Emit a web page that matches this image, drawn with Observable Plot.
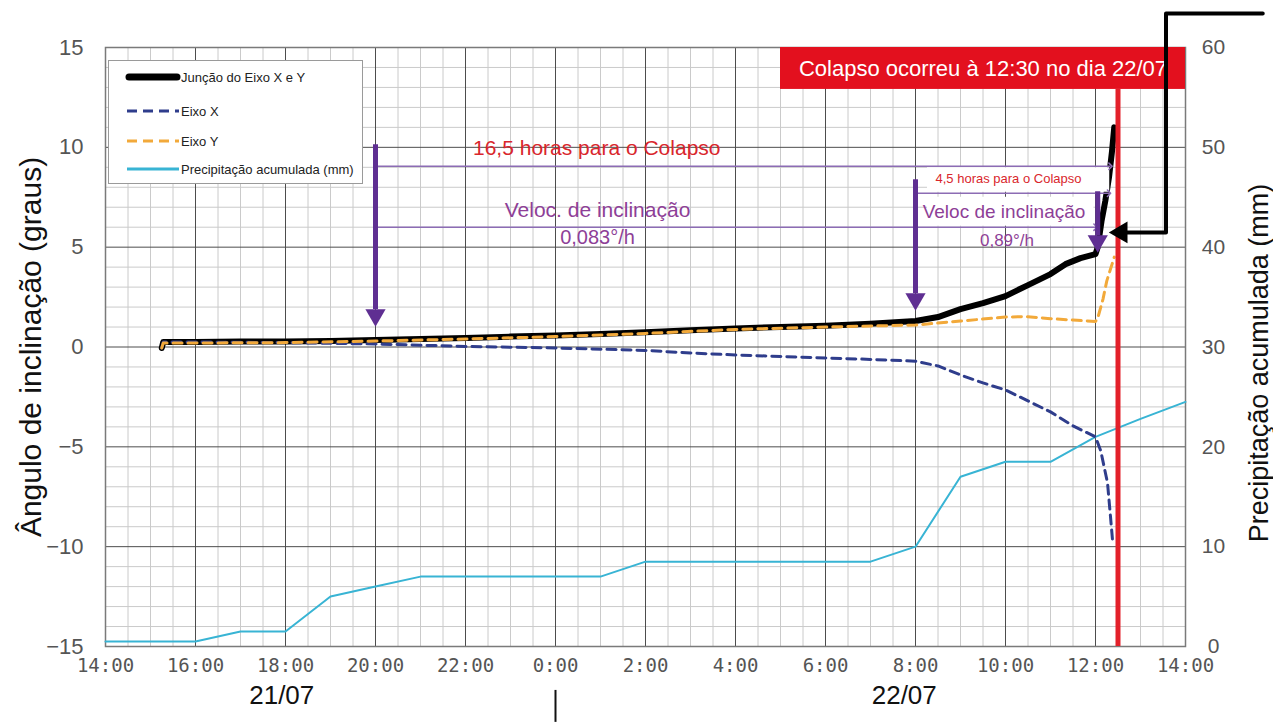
<!DOCTYPE html>
<html><head><meta charset="utf-8">
<script src="https://cdn.jsdelivr.net/npm/d3@7"></script>
<script src="https://cdn.jsdelivr.net/npm/@observablehq/plot@0.6"></script>
<style>
body{margin:0;background:#fff;}
#wrap{position:relative;width:1273px;height:725px;font-family:"Liberation Sans",Arial,sans-serif;}
#legend{position:absolute;left:108px;top:60px;width:255px;height:124px;background:#fff;border:1px solid #9a9a9a;box-sizing:border-box;}
#legend svg{position:absolute;left:0;top:0;}
</style></head><body><div id="wrap"></div>
<script>
// ---- data (time as "day HH:MM", angles in degrees, precipitation in mm) ----
const juncaoT = ["21 15:15","21 15:17","21 16:00","21 17:00","21 18:00","21 19:00","21 20:00","21 21:00","21 22:00","21 23:00","22 00:00","22 01:00","22 02:00","22 03:00","22 04:00","22 05:00","22 06:00","22 07:00","22 08:00","22 08:30","22 09:00","22 09:30","22 10:00","22 10:30","22 11:00","22 11:20","22 11:40","22 12:00","22 12:03","22 12:08","22 12:13","22 12:18","22 12:22","22 12:25"];
const juncaoV = [-0.05,0.25,0.25,0.27,0.28,0.3,0.35,0.4,0.45,0.52,0.58,0.65,0.74,0.84,0.93,1.0,1.07,1.17,1.3,1.5,1.9,2.2,2.55,3.1,3.65,4.15,4.45,4.65,5.0,6.3,7.3,8.5,9.8,11.0];

const eixoXT = ["21 15:15","21 15:17","21 16:00","21 18:00","21 20:00","21 22:00","22 00:00","22 02:00","22 03:00","22 04:00","22 06:00","22 07:00","22 08:00","22 08:30","22 09:00","22 09:30","22 10:00","22 10:30","22 11:00","22 11:30","22 12:00","22 12:07","22 12:16","22 12:20","22 12:23"];
const eixoXV = [-0.05,0.25,0.25,0.22,0.15,0.03,-0.05,-0.17,-0.3,-0.4,-0.55,-0.62,-0.71,-0.95,-1.4,-1.8,-2.15,-2.7,-3.25,-3.95,-4.5,-5.2,-6.8,-8.5,-9.8];

const eixoYT = ["21 15:15","21 15:17","21 16:00","21 18:00","21 20:00","21 22:00","22 00:00","22 02:00","22 04:00","22 06:00","22 08:00","22 09:00","22 10:00","22 10:30","22 11:00","22 11:30","22 12:00","22 12:03","22 12:10","22 12:15","22 12:25"];
const eixoYV = [-0.05,0.2,0.2,0.22,0.3,0.4,0.52,0.68,0.88,1.0,1.1,1.3,1.5,1.52,1.42,1.35,1.28,1.45,2.4,3.3,4.5];

const chuvaT = ["21 14:00","21 16:00","21 17:00","21 18:00","21 19:00","21 20:00","21 21:00","22 01:00","22 02:00","22 07:00","22 08:00","22 09:00","22 10:00","22 11:00","22 12:00","22 13:00","22 14:00"];
const chuvaMM = [0.5,0.5,1.5,1.5,5.0,6.0,7.0,7.0,8.5,8.5,10.0,17.0,18.5,18.5,21.0,22.8,24.5];

const xTicks = ["21 14:00","21 16:00","21 18:00","21 20:00","21 22:00","22 00:00","22 02:00","22 04:00","22 06:00","22 08:00","22 10:00","22 12:00","22 14:00"];
const leftTicks = [-15,-10,-5,0,5,10,15];
const rightTickLabels = [0,10,20,30,40,50,60];
const dayLabels = [{t:"21 17:55", label:"21/07"}, {t:"22 07:45", label:"22/07"}];

const seriesNames = ["Junção do Eixo X e Y","Eixo X","Eixo Y","Precipitação acumulada (mm)"];

// annotations
const colapsoT = "22 12:30";
const colapsoTexto = "Colapso ocorreu à 12:30 no dia 22/07";
const thickArrows = [{t:"21 20:00", from:10.15, to:1.35},{t:"22 08:00", from:8.4, to:2.15},{t:"22 12:03", from:7.8, to:5.05}];
const spans = [
  {t1:"21 20:00", t2:"22 12:20", y:9.05},
  {t1:"21 20:00", t2:"22 08:00", y:6.0},
  {t1:"22 08:00", t2:"22 12:18", y:7.7},
  {t1:"22 08:00", t2:"22 12:00", y:6.0}
];
const notes = [
  {t:"22 00:55", y:9.95, text:"16,5 horas para o Colapso", color:"#d9262c", size:21},
  {t:"22 00:56", y:6.85, text:"Veloc. de inclinação", color:"#8e3f97", size:21},
  {t:"22 00:56", y:5.5, text:"0,083°/h", color:"#8e3f97", size:20},
  {t:"22 10:04", y:8.42, text:"4,5 horas para o Colapso", color:"#d9262c", size:13},
  {t:"22 09:58", y:6.75, text:"Veloc de inclinação", color:"#8e3f97", size:19},
  {t:"22 10:02", y:5.35, text:"0,89°/h", color:"#8e3f97", size:17}
];
const noteBoxes = [{t1:"22 08:16", t2:"22 12:19", y1:7.75, y2:8.98},{t1:"22 08:16", t2:"22 11:58", y1:6.05, y2:7.5}];
const connector = [{t:"22 15:43", y:16.7},{t:"22 13:34", y:16.7},{t:"22 13:34", y:5.74},{t:"22 12:38", y:5.74}];
const connectorTip = {t:"22 12:37", y:5.74};
const bannerBox = {t1:"22 05:00", t2:"22 14:00", y1:12.9, y2:15};

// ---- helpers ----
const hrs = s => { const [d, hm] = s.split(" "); const [h, m] = hm.split(":").map(Number); return (d === "22" ? 24 : 0) + h + m / 60; };
const zip = (T, V) => T.map((t, i) => ({x: hrs(t), y: V[i]}));
const juncao = zip(juncaoT, juncaoV);
const eixoX = zip(eixoXT, eixoXV);
const eixoY = zip(eixoYT, eixoYV);
const chuva = zip(chuvaT, chuvaMM).map(d => ({x: d.x, y: d.y / 2 - 15}));

const xMajor = d3.range(16, 38, 2);
const xMinor = d3.range(14.5, 38, 0.5).filter(v => v % 2 !== 0);
const yMinor = d3.range(-14, 15, 1).filter(v => v % 5 !== 0);
const yMajor = [-10, -5, 0, 5, 10];
const purple = "#5f2f92";
const thin = "#8c6cb4";

const noteMarks = notes.map(n => Plot.text([n], {x: d => hrs(d.t), y: "y", text: "text", fill: n.color, fontSize: n.size}));

const chart = Plot.plot({
  width: 1273, height: 725,
  marginTop: 47, marginRight: 88, marginBottom: 79, marginLeft: 105,
  style: {fontFamily: "'Liberation Sans', Arial, sans-serif", background: "#fff"},
  x: {domain: [14, 38]},
  y: {domain: [-15, 15]},
  marks: [
    Plot.ruleX(xMinor, {stroke: "#cacaca", strokeWidth: 1}),
    Plot.ruleY(yMinor, {stroke: "#cacaca", strokeWidth: 1}),
    Plot.ruleX(xMajor, {stroke: "#4d4d4d", strokeWidth: 1}),
    Plot.ruleY(yMajor, {stroke: "#4d4d4d", strokeWidth: 1}),
    Plot.frame({stroke: "#7a7a7a", strokeWidth: 1.5}),
    Plot.axisX({ticks: xTicks.map(hrs), tickFormat: d => `${d % 24}:00`, tickSize: 0, tickPadding: 12, fontSize: 19, fontFamily: "'DejaVu Sans Mono', monospace", fill: "#555", label: null}),
    Plot.axisY({ticks: leftTicks, tickSize: 0, tickPadding: 22, fontSize: 22, fill: "#555", label: null}),
    Plot.axisY({anchor: "right", ticks: rightTickLabels.map(v => v / 2 - 15), tickFormat: d => String(Math.round((d + 15) * 2)), tickSize: 0, tickPadding: 28, textAnchor: "middle", fontSize: 21, fill: "#555", label: null}),
    Plot.text(["Ângulo de inclinação (graus)"], {frameAnchor: "left", dx: -74, rotate: -90, textAnchor: "middle", fontSize: 30, fill: "#111"}),
    Plot.text(["Precipitação acumulada (mm)"], {frameAnchor: "right", dx: 74, dy: 16, rotate: -90, textAnchor: "middle", fontSize: 27, fill: "#111"}),
    Plot.text(dayLabels, {x: d => hrs(d.t), text: "label", frameAnchor: "bottom", dy: 57, fontSize: 26, fill: "#111"}),
    Plot.ruleX([24], {y1: -17.2, y2: -18.8, stroke: "#111", strokeWidth: 2}),
    // series
    Plot.line(chuva, {x: "x", y: "y", stroke: "#38b4d4", strokeWidth: 2}),
    Plot.line(juncao, {x: "x", y: "y", stroke: "#000", strokeWidth: 6, strokeLinejoin: "round", strokeLinecap: "round"}),
    Plot.line(eixoX, {x: "x", y: "y", stroke: "#2f3d8c", strokeWidth: 3, strokeDasharray: "9,6"}),
    Plot.line(eixoY, {x: "x", y: "y", stroke: "#f2a93a", strokeWidth: 3, strokeDasharray: "9,6"}),
    // collapse
    Plot.ruleX([hrs(colapsoT)], {y1: -15, y2: bannerBox.y1, stroke: "#e3202a", strokeWidth: 5}),
    Plot.rect([bannerBox], {x1: d => hrs(d.t1), x2: d => hrs(d.t2), y1: "y1", y2: "y2", fill: "#e3101e"}),
    Plot.text([colapsoTexto], {x: (hrs(bannerBox.t1) + hrs(bannerBox.t2)) / 2, y: (bannerBox.y1 + bannerBox.y2) / 2, fill: "#fff", fontSize: 22}),
    // annotations
    Plot.rect(noteBoxes, {x1: d => hrs(d.t1), x2: d => hrs(d.t2), y1: "y1", y2: "y2", fill: "#fff"}),
    Plot.link(spans, {x1: d => hrs(d.t1), x2: d => hrs(d.t2), y1: "y", y2: "y", stroke: thin, strokeWidth: 1.6, markerStart: "arrow", markerEnd: "arrow"}),
    Plot.link(thickArrows, {x1: d => hrs(d.t), x2: d => hrs(d.t), y1: "from", y2: d => d.to + 0.55, stroke: purple, strokeWidth: 5}),
    Plot.dot(thickArrows, {x: d => hrs(d.t), y: d => d.to, symbol: "triangle", r: 7.5, rotate: 180, dy: -5, fill: purple, stroke: "none"}),
    ...noteMarks,
    Plot.line(connector, {x: d => hrs(d.t), y: "y", stroke: "#000", strokeWidth: 4}),
    Plot.dot([connectorTip], {x: d => hrs(d.t), y: "y", symbol: "triangle", r: 8, rotate: -90, fill: "#000", stroke: "none", dx: -2})
  ]
});
const wrap = document.getElementById("wrap");
wrap.appendChild(chart);

// legend
const lg = document.createElement("div");
lg.id = "legend";
const rows = [16, 50, 80, 108];
const sw = [
  `<line x1="20" x2="68" stroke="#000" stroke-width="7" stroke-linecap="round"/>`,
  `<line x1="18" x2="70" stroke="#2f3d8c" stroke-width="3" stroke-dasharray="10,6"/>`,
  `<line x1="18" x2="70" stroke="#f2a93a" stroke-width="3" stroke-dasharray="10,6"/>`,
  `<line x1="18" x2="70" stroke="#38b4d4" stroke-width="3"/>`
];
let svg = `<svg width="255" height="124" xmlns="http://www.w3.org/2000/svg">`;
seriesNames.forEach((name, i) => {
  svg += `<g transform="translate(0,${rows[i]})">${sw[i]}<text x="72" y="0" dy="0.35em" font-size="13" fill="#222" font-family="'Liberation Sans', Arial, sans-serif">${name}</text></g>`;
});
svg += `</svg>`;
lg.innerHTML = svg;
wrap.appendChild(lg);
</script>
</body></html>
